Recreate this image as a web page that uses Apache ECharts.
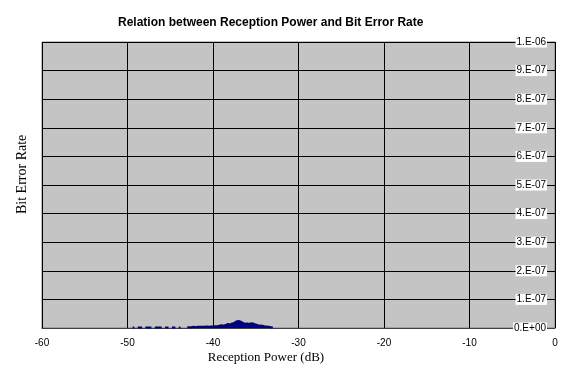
<!DOCTYPE html>
<html><head><meta charset="utf-8">
<script src="https://cdn.jsdelivr.net/npm/echarts@6/dist/echarts.min.js"></script>
<style>html,body{margin:0;padding:0;background:#fff}#c{width:577px;height:373px}</style>
</head><body><div id="c"></div>
<script>
// Reception power (dB)
const powerDb = [-49.4,-49.2,-49.0,-48.8,-48.5,-48.3,-48.1,-47.9,-47.7,-47.4,-47.2,-47.0,-46.8,-46.6,-46.4,-46.2,-46.0,-45.8,-45.6,-45.4,-45.2,-45.0,-44.8,-44.6,-44.4,-44.2,-44.0,-43.8,-43.6,-43.4,
 -43.0,-42.75,-42.5,-42.25,-42.0,-41.75,-41.5,-41.25,-41.0,-40.75,-40.5,-40.25,-40.0,-39.75,-39.5,-39.25,-39.0,-38.75,-38.5,-38.25,-38.0,-37.75,-37.5,-37.25,-37.0,-36.75,-36.5,-36.25,-36.0,-35.75,-35.5,-35.25,-35.0,-34.75,-34.5,-34.25,-34.0,-33.75,-33.5,-33.25,-33.0];
// Bit error rate values (null = no data)
const berValues = [2e-9,2e-9,null,2e-9,2e-9,2e-9,null,2e-9,2e-9,2e-9,2e-9,null,2e-9,2e-9,2e-9,2e-9,2e-9,null,2e-9,2e-9,2e-9,null,2e-9,2e-9,2e-9,null,2e-9,2e-9,null,null,
 3e-9,3e-9,3e-9,4e-9,3e-9,4e-9,4e-9,4e-9,4e-9,5e-9,4e-9,5e-9,5e-9,6e-9,6e-9,8e-9,1.0e-8,8e-9,1.1e-8,1.4e-8,1.2e-8,1.6e-8,1.8e-8,2.3e-8,2.5e-8,2.2e-8,1.8e-8,1.5e-8,1.6e-8,1.4e-8,1.7e-8,1.5e-8,1.2e-8,1.0e-8,9e-9,8e-9,6e-9,5e-9,4e-9,3e-9,2e-9];
const xTicks = [-60,-50,-40,-30,-20,-10,0];
const yTickLabels = ['0.E+00','1.E-07','2.E-07','3.E-07','4.E-07','5.E-07','6.E-07','7.E-07','8.E-07','9.E-07','1.E-06'];

const data = powerDb.map((x,i)=>[x, berValues[i]]);
const chart = echarts.init(document.getElementById('c'), null, {renderer:'canvas'});
chart.setOption({
  animation:false,
  backgroundColor:'#fff',
  title:{text:'Relation between Reception Power and Bit Error Rate', left:113, top:12,
    textStyle:{fontFamily:'Liberation Sans', fontWeight:'bold', fontSize:12, color:'#000'}},
  grid:{left:42, right:22, top:42, bottom:45, show:true, backgroundColor:'#c4c4c4', borderColor:'#808080', borderWidth:1},
  xAxis:{type:'value', min:xTicks[0], max:xTicks[xTicks.length-1], interval:10,
    axisLine:{onZero:false, lineStyle:{color:'#404040', width:1}}, axisTick:{show:false},
    axisLabel:{color:'#000', fontFamily:'Liberation Sans', fontSize:10, margin:10,
      formatter:v=>String(v)},
    splitLine:{show:true, lineStyle:{color:'#000', width:1}}},
  yAxis:{type:'value', position:'right', min:0, max:1e-6, interval:1e-7,
    axisLine:{show:false}, axisTick:{show:false},
    axisLabel:{inside:true, margin:8, color:'#000', fontFamily:'Liberation Sans', fontSize:10,
      backgroundColor:'#fff', padding:[1,1,0,1],
      formatter:(v)=>yTickLabels[Math.round(v/1e-7)]},
    splitLine:{show:true, lineStyle:{color:'#000', width:1}}},
  series:[{type:'line', data:data, showSymbol:false, connectNulls:false,
    lineStyle:{color:'#000080', width:2}, areaStyle:{color:'#000080', opacity:1}, z:3}],
  graphic:[
    {type:'text', x:266, y:351, style:{text:'Reception Power (dB)', align:'center', font:'13px "Liberation Serif", serif', fill:'#000'}},
    {type:'text', x:15, y:214, rotation:Math.PI/2, style:{text:'Bit Error Rate', font:'14px "Liberation Serif", serif', fill:'#000'}}
  ]
});
</script></body></html>
